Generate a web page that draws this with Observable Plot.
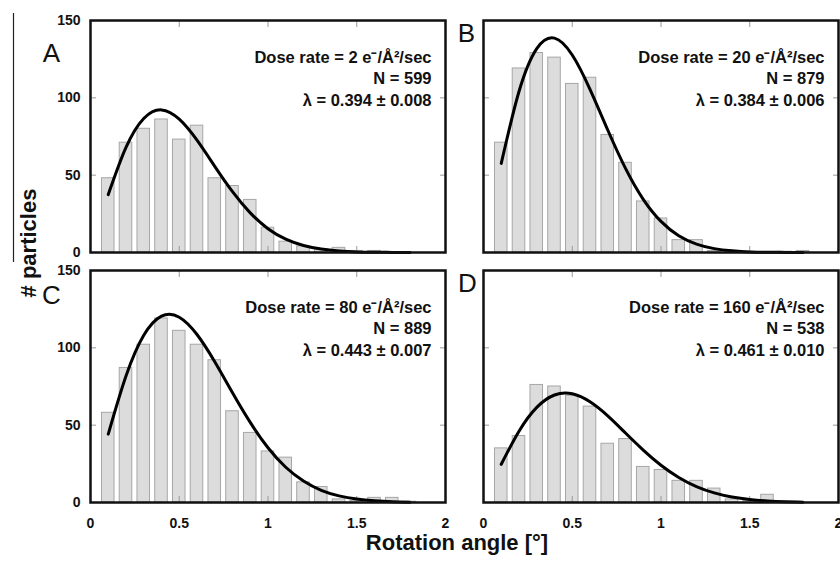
<!DOCTYPE html>
<html><head><meta charset="utf-8">
<script src="https://cdn.jsdelivr.net/npm/d3@7"></script>
<script src="https://cdn.jsdelivr.net/npm/@observablehq/plot@0.6"></script>
<style>
html,body{margin:0;padding:0;background:#fff;}
#chart{width:840px;height:561px;overflow:hidden;}
</style>
</head><body><div id="chart"></div>
<script>
// ---- data ----
const panels = ["A", "B", "C", "D"];
const panelCol = [0, 1, 0, 1];
const panelRow = [0, 0, 1, 1];
const doseRates = [2, 20, 80, 160];
const counts = [599, 879, 889, 538];
const lambdas = ["0.394 ± 0.008", "0.384 ± 0.006", "0.443 ± 0.007", "0.461 ± 0.010"];

const binCenters = [0.1,0.2,0.3,0.4,0.5,0.6,0.7,0.8,0.9,1.0,1.1,1.2,1.3,1.4,1.5,1.6,1.7,1.8];
const barsA = [48,71,80,86,73,82,48,43,34,16,7,4,2,3,1,1,0,0];
const barsB = [71,119,129,126,109,113,76,58,33,22,8,8,1,1,0.5,0,0.5,1];
const barsC = [58,87,102,119,111,102,92,59,45,33,29,13,10,2,1,3,3,0.5];
const barsD = [35,43,76,75,69,62,38,41,23,21,14,14,9,2,1,5,0,0];

const fitX = [0.1,0.2,0.3,0.4,0.5,0.6,0.7,0.8,0.9,1.0,1.1,1.2,1.3,1.4,1.5,1.6,1.7,1.8];
const fitA = [37.4,67.9,86.6,92.2,86.2,72.6,55.7,39.3,25.6,15.4,8.6,4.5,2.2,1.0,0.4,0.2,0.05,0.02];
const fitB = [57.6,104.1,131.8,138.6,127.7,105.5,79.2,54.4,34.4,20.1,10.8,5.4,2.5,1.1,0.4,0.2,0.06,0.02];
const fitC = [44.2,81.8,108.1,120.5,119.8,108.6,91.0,71.0,51.8,35.4,22.8,13.9,7.9,4.3,2.2,1.1,0.5,0.2];
const fitD = [24.7,46.1,61.5,69.5,70.3,65.1,56.0,44.9,33.9,24.1,16.2,10.3,6.2,3.5,1.9,1.0,0.5,0.2];

const xTicks = [0, 0.5, 1, 1.5, 2];
const xInnerTicks = [0.5, 1, 1.5];
const yTicks = [0, 50, 100, 150];
const yInnerTicks = [50, 100];
const xTitle = "Rotation angle [°]";
const yTitle = "# particles";

// ---- tables built from the arrays ----
const barSeries = [barsA, barsB, barsC, barsD];
const fitSeries = [fitA, fitB, fitC, fitD];
const barData = [], fitData = [], infoData = [];
panels.forEach((p, i) => {
  binCenters.forEach((x, j) => {
    if (barSeries[i][j] > 0) barData.push({panel: p, col: panelCol[i], row: panelRow[i], x, y: barSeries[i][j]});
  });
  fitX.forEach((x, j) => fitData.push({panel: p, col: panelCol[i], row: panelRow[i], x, y: fitSeries[i][j]}));
  infoData.push({panel: p, col: panelCol[i], row: panelRow[i], dose: doseRates[i], n: counts[i], lam: lambdas[i]});
});

const FONT = "'Liberation Sans', Arial, Helvetica, sans-serif";
const letterPos = {A: [-39, 33], B: [-17, 13.5], C: [-39, 25], D: [-16, 13]};

const letterMarks = panels.map(p => Plot.text(infoData.filter(d => d.panel === p), {
  fx: "col", fy: "row", text: "panel", frameAnchor: "top-left",
  dx: letterPos[p][0], dy: letterPos[p][1], textAnchor: "middle", lineAnchor: "middle",
  fontSize: 26, fill: "#111"
}));

const innerTick = {tickSize: -6, tickFormat: () => "", label: null, stroke: "#9a9a9a", facetAnchor: null};

const chart = Plot.plot({
  width: 840, height: 561,
  marginLeft: 89, marginRight: 1, marginTop: 19, marginBottom: 58,
  facet: {marginTop: 0, marginRight: 0, marginBottom: 0, marginLeft: 0},
  style: {fontFamily: FONT, background: "#fff", overflow: "visible"},
  x: {domain: [0, 2], label: null},
  y: {domain: [0, 150], label: null},
  fx: {domain: [0, 1], paddingInner: 0.0964, paddingOuter: 0, axis: null, label: null},
  fy: {domain: [0, 1], paddingInner: 0.0717, paddingOuter: 0, axis: null, label: null},
  marks: [
    Plot.rect(barData, {fx: "col", fy: "row", x1: d => d.x - 0.05, x2: d => d.x + 0.05, y1: 0, y2: "y",
      insetLeft: 2.6, insetRight: 2.6, fill: "#dcdcdc", stroke: "#a6a6a6", strokeWidth: 1}),
    Plot.axisX({anchor: "bottom", ticks: xInnerTicks, ...innerTick}),
    Plot.axisX({anchor: "top", ticks: xInnerTicks, ...innerTick}),
    Plot.axisY({anchor: "left", ticks: yInnerTicks, ...innerTick}),
    Plot.axisY({anchor: "right", ticks: yInnerTicks, ...innerTick}),
    Plot.axisY({anchor: "left", ticks: yTicks, tickSize: 0, tickPadding: 10, label: null,
      fontWeight: "bold", fontSize: 14, fill: "#111"}),
    Plot.axisX({anchor: "bottom", ticks: xTicks, tickSize: 0, tickPadding: 16, label: null,
      tickFormat: d => String(d), fontWeight: "bold", fontSize: 14, fill: "#111"}),
    Plot.line(fitData, {fx: "col", fy: "row", x: "x", y: "y", z: "panel", curve: "natural",
      stroke: "#000", strokeWidth: 3}),
    Plot.frame({stroke: "#111", strokeWidth: 2.5}),
    Plot.text(infoData, {fx: "col", fy: "row",
      text: d => `Dose rate = ${d.dose} e⁻/Å²/sec\nN = ${d.n}\nλ = ${d.lam}`,
      frameAnchor: "top-right", dx: -14, dy: 27, textAnchor: "end", lineAnchor: "top",
      lineHeight: 1.3, fontSize: 16.5, fontWeight: "bold", fill: "#111"}),
    ...letterMarks
  ]
});

document.getElementById("chart").appendChild(chart);

// axis titles and the thin rule at the far left of the reference
const svg = d3.select(chart);
svg.append("line").attr("x1", 13.5).attr("x2", 13.5).attr("y1", 13).attr("y2", 262)
  .attr("stroke", "#222").attr("stroke-width", 1.2);
svg.append("text").text(xTitle).attr("x", 457).attr("y", 542)
  .attr("text-anchor", "middle").attr("dominant-baseline", "central")
  .attr("font-family", FONT).attr("font-weight", "bold").attr("font-size", 22).attr("fill", "#111");
svg.append("text").text(yTitle).attr("transform", "translate(28,243) rotate(-90)")
  .attr("text-anchor", "middle").attr("dominant-baseline", "central")
  .attr("font-family", FONT).attr("font-weight", "bold").attr("font-size", 22).attr("fill", "#111");
</script>
</body></html>
